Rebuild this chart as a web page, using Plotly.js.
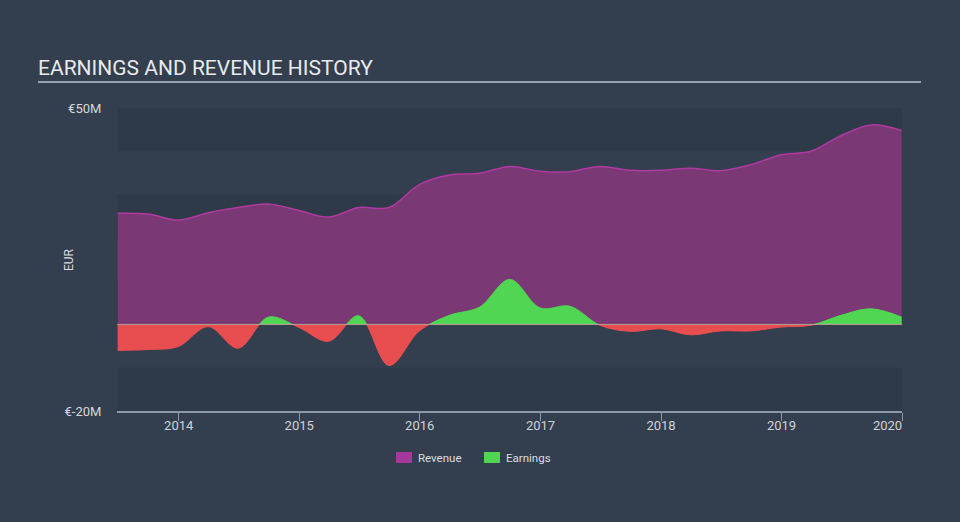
<!DOCTYPE html>
<html><head><meta charset="utf-8">
<script src="https://cdn.plot.ly/plotly-3.0.1.min.js"></script>
<style>html,body{margin:0;padding:0;background:#333f4e;}#chart{width:960px;height:522px;}</style>
</head><body><div id="chart"></div>
<script>
// ---- data (EUR millions, quarterly) ----
const dates = ['2013-06-30','2013-09-30','2013-12-31','2014-03-31','2014-06-30','2014-09-30','2014-12-31',
  '2015-03-31','2015-06-30','2015-09-30','2015-12-31','2016-03-31','2016-06-30','2016-09-30','2016-12-31',
  '2017-03-31','2017-06-30','2017-09-30','2017-12-31','2018-03-31','2018-06-30','2018-09-30','2018-12-31',
  '2019-03-31','2019-06-30','2019-09-30','2019-12-31'];
const revenue = [25.7,25.5,24.1,25.8,27.0,27.8,26.3,24.8,27.0,27.0,32.3,34.5,34.9,36.5,35.4,35.3,36.5,35.6,35.6,36.1,35.5,36.9,39.2,40.0,43.6,46.1,44.8];
const earnings = [-6.0,-5.8,-5.1,-0.5,-5.5,1.7,-0.7,-3.9,2.0,-9.5,-1.5,2.1,4.0,10.4,3.8,4.2,-0.2,-1.6,-1.0,-2.4,-1.5,-1.5,-0.6,-0.2,2.1,3.6,1.7];
const yearTicks = ['2014-01-01','2015-01-01','2016-01-01','2017-01-01','2018-01-01','2019-01-01','2020-01-01'];
const yearLabels = ['2014','2015','2016','2017','2018','2019','2020'];
const yTickVals = [-20, 50];
const yTickLabels = ['€-20M','€50M'];
const yMin = -20, yMax = 50;
const bandStarts = [40, 20, 0, -20];   // darker 10M bands
const seriesNames = ['Revenue','Earnings'];

// ---- styles ----
const C = {
  page:'#333f4e', band:'#2e3a48', rev:'#b03aa2', revFill:'#7a3874',
  pos:'#50d653', neg:'#e84e50', text:'#d9dde2', axis:'#8e99a6'
};
const zeroFrac = (0 - yMin) / (yMax - yMin);
const W = 960, L = 117, R = 58, T = 108, B = 111;
const pw = W - L - R, ph = 522 - T - B;
const px = x => (x - L) / pw;
const py = y => (522 - B - y) / ph;

const traces = [
  {x: dates, y: revenue, type:'scatter', mode:'lines', name: seriesNames[0],
   line:{color:C.rev, width:1.5, shape:'spline'}, fill:'tozeroy', fillcolor:C.revFill,
   xaxis:'x', yaxis:'y', hoverinfo:'skip', showlegend:false},
  {x: dates, y: earnings, type:'scatter', mode:'lines', name: seriesNames[1],
   line:{color:C.pos, width:1, shape:'spline'}, fill:'tozeroy', fillcolor:C.pos,
   xaxis:'x', yaxis:'y2', hoverinfo:'skip', showlegend:false},
  {x: dates, y: earnings, type:'scatter', mode:'lines', name: seriesNames[1],
   line:{color:C.neg, width:1, shape:'spline'}, fill:'tozeroy', fillcolor:C.neg,
   xaxis:'x', yaxis:'y3', hoverinfo:'skip', showlegend:false}
];

const shapes = bandStarts.map(b => ({type:'rect', xref:'paper', yref:'y', x0:0, x1:1, y0:b, y1:b+10,
  fillcolor:C.band, line:{width:0}, layer:'below'}));
shapes.push({type:'line', xref:'paper', yref:'y', x0:0, x1:1, y0:0, y1:0,
  line:{color:'rgba(235,215,190,0.55)', width:1}, layer:'above'});
shapes.push({type:'line', xref:'paper', yref:'paper', x0:px(38), x1:px(921), y0:py(82), y1:py(82),
  line:{color:'#98a3af', width:2}});
// legend swatches
shapes.push({type:'rect', xref:'paper', yref:'paper', x0:px(396), x1:px(412), y0:py(452), y1:py(463),
  fillcolor:'#a6389c', line:{width:0}});
shapes.push({type:'rect', xref:'paper', yref:'paper', x0:px(484), x1:px(500), y0:py(452), y1:py(463),
  fillcolor:C.pos, line:{width:0}});

const annotations = [
  {text: seriesNames[0], xref:'paper', yref:'paper', x:px(416), y:py(457.5), xanchor:'left', yanchor:'middle',
   showarrow:false, font:{family:'Roboto', size:11.5, color:C.text}},
  {text: seriesNames[1], xref:'paper', yref:'paper', x:px(504), y:py(457.5), xanchor:'left', yanchor:'middle',
   showarrow:false, font:{family:'Roboto', size:11.5, color:C.text}},
  {text:'EUR', xref:'paper', yref:'paper', x:px(69), y:py(260), xanchor:'center', yanchor:'middle',
   textangle:-90, showarrow:false, font:{family:'Roboto', size:12, color:C.text}}
];

const tickText = yearLabels.map((t, i) => i === yearLabels.length - 1 ? t + '\u00a0'.repeat(9) : t);

const layout = {
  width:960, height:522, margin:{l:L, r:R, t:T, b:B, pad:0},
  paper_bgcolor:C.page, plot_bgcolor:'rgba(0,0,0,0)',
  showlegend:false,
  title:{text:'EARNINGS AND REVENUE HISTORY', xref:'container', yref:'container',
    x:38/960, xanchor:'left', y:1-68/522, yanchor:'middle',
    font:{family:'Roboto', size:21, color:'#e8eaec'}},
  xaxis:{type:'date', range:['2013-06-28','2020-01-01'], tickvals:yearTicks, ticktext:tickText,
    showgrid:false, zeroline:false, showline:true, linecolor:C.axis, linewidth:1.5,
    ticks:'outside', ticklen:8, tickcolor:C.axis, tickwidth:1, ticklabelstandoff:-6,
    tickfont:{family:'Roboto', size:13, color:'#cfd3d8'}, fixedrange:true},
  yaxis:{range:[yMin, yMax], tickvals:yTickVals, ticktext:yTickLabels, showgrid:false, zeroline:false,
    showline:false, ticks:'outside', ticklen:12, tickcolor:'rgba(0,0,0,0)',
    tickfont:{family:'Roboto', size:13, color:'#d4d8dc'}, fixedrange:true},
  yaxis2:{domain:[zeroFrac, 1], range:[0, yMax], visible:false, anchor:'x', fixedrange:true},
  yaxis3:{domain:[0, zeroFrac], range:[yMin, 0], visible:false, anchor:'x', fixedrange:true},
  shapes: shapes, annotations: annotations
};

Plotly.newPlot('chart', traces, layout, {displayModeBar:false, staticPlot:true});
</script></body></html>
